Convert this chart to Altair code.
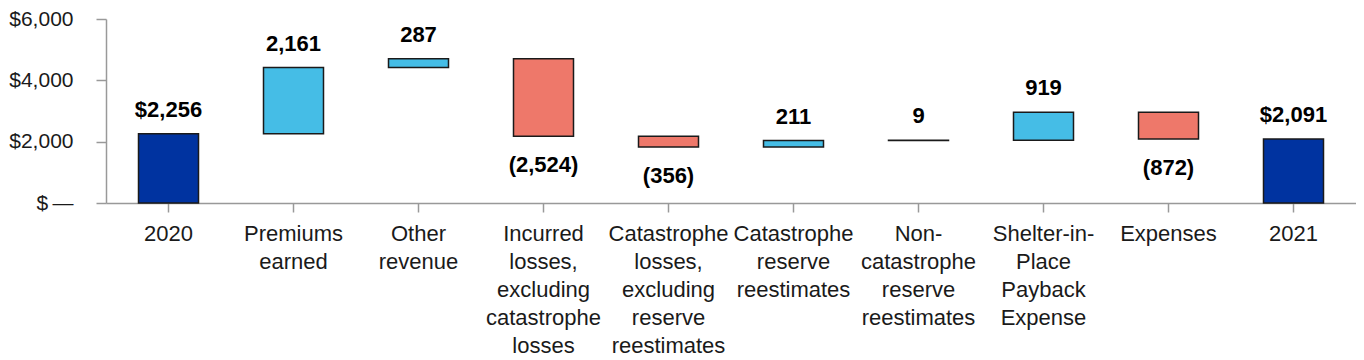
import altair as alt
import pandas as pd

categories = [
    "2020",
    "Premiums\nearned",
    "Other\nrevenue",
    "Incurred\nlosses,\nexcluding\ncatastrophe\nlosses",
    "Catastrophe\nlosses,\nexcluding\nreserve\nreestimates",
    "Catastrophe\nreserve\nreestimates",
    "Non-\ncatastrophe\nreserve\nreestimates",
    "Shelter-in-\nPlace\nPayback\nExpense",
    "Expenses",
    "2021",
]
values = [2256, 2161, 287, -2524, -356, 211, 9, 919, -872, 2091]
kinds = ["total", "up", "up", "down", "down", "up", "up", "up", "down", "total"]
value_labels = ["$2,256", "2,161", "287", "(2,524)", "(356)", "211", "9", "919", "(872)", "$2,091"]
y_ticks = [0, 2000, 4000, 6000]

rows = []
running = 0
for cat, v, k, lab in zip(categories, values, kinds, value_labels):
    if k == "total":
        start, end = 0, v
        running = v
    else:
        start, end = running, running + v
        running = running + v
    rows.append({
        "category": cat, "start": start, "end": end, "kind": k, "label": lab,
        "top": max(start, end), "bottom": min(start, end),
        "pos": "below" if k == "down" else "above",
    })
df = pd.DataFrame(rows)

FONT = "Liberation Sans"

x_enc = alt.X(
    "category:N", sort=categories, title=None,
    scale=alt.Scale(paddingInner=0.52, paddingOuter=0.26),
    axis=alt.Axis(
        labelExpr="split(datum.label, '\\n')", labelAngle=0, labelFont=FONT,
        labelFontSize=22, labelColor="#1a1a1a", labelLineHeight=28,
        labelPadding=11, labelBaseline="top", labelLimit=300,
        tickSize=9, tickColor="#999999", tickWidth=1.5,
        domainColor="#999999", domainWidth=1.5,
    ),
)

base = alt.Chart(df)

bars = base.mark_bar(stroke="#1a1a1a", strokeWidth=1.5).encode(
    x=x_enc,
    y=alt.Y(
        "start:Q", title=None,
        scale=alt.Scale(domain=[0, 6000], nice=False),
        axis=alt.Axis(
            values=y_ticks, grid=False,
            labelExpr="datum.value == 0 ? '$\u2009\u2014' : '$' + format(datum.value, ',')",
            labelFont=FONT, labelFontSize=21, labelColor="#1a1a1a", labelPadding=23,
            tickSize=10, tickColor="#999999", tickWidth=1.5,
            domainColor="#999999", domainWidth=1.5,
        ),
    ),
    y2="end:Q",
    color=alt.Color(
        "kind:N", legend=None,
        scale=alt.Scale(domain=["total", "up", "down"], range=["#0033A0", "#45BDE6", "#EE786A"]),
    ),
)

above = base.transform_filter(alt.datum.pos == "above").mark_text(
    font=FONT, fontSize=22, fontWeight="bold", color="#000000",
    baseline="alphabetic", dy=-17,
).encode(x=alt.X("category:N", sort=categories), y="top:Q", text="label:N")

below = base.transform_filter(alt.datum.pos == "below").mark_text(
    font=FONT, fontSize=22, fontWeight="bold", color="#000000",
    baseline="alphabetic", dy=36,
).encode(x=alt.X("category:N", sort=categories), y="bottom:Q", text="label:N")

chart = alt.layer(bars, above, below).properties(
    width=1250, height=184, padding=0, background="white"
).configure_view(stroke=None)

chart.save("out.html", embed_options={"renderer": "svg", "actions": False})
